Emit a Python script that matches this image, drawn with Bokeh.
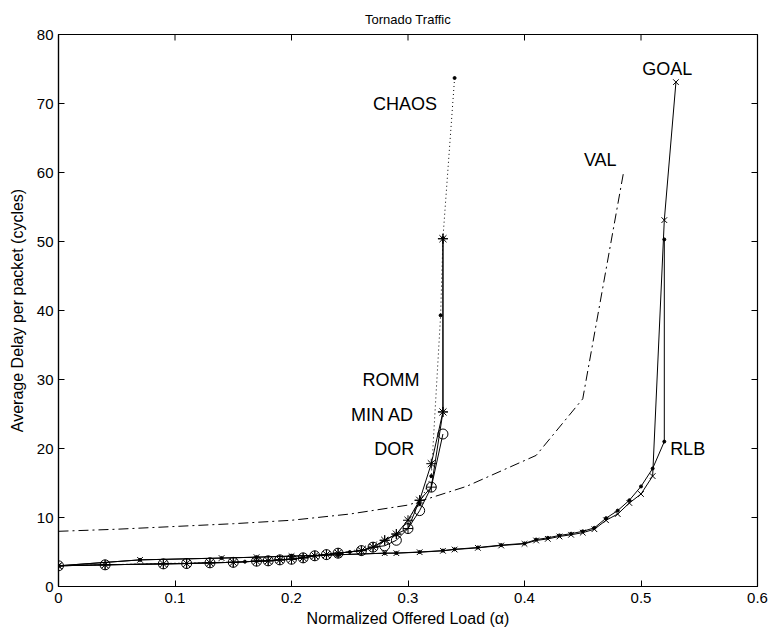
import math
from bokeh.plotting import figure
from bokeh.models import Range1d, FixedTicker
from bokeh.core.properties import value
from bokeh.embed import file_html
from bokeh.resources import INLINE

FONT = "Liberation Sans"

# --- routing algorithms under tornado traffic: offered load vs. average delay ---
dor_load = [0, 0.04, 0.09, 0.11, 0.13, 0.15, 0.17, 0.18, 0.19, 0.20, 0.21, 0.22,
            0.23, 0.24, 0.26, 0.27, 0.28, 0.29, 0.30, 0.31, 0.32, 0.33]
dor_delay = [3.0, 3.14, 3.28, 3.33, 3.43, 3.5, 3.67, 3.72, 3.86, 3.95, 4.15, 4.45,
             4.62, 4.83, 5.2, 5.7, 5.9, 6.7, 8.4, 11.0, 14.4, 22.1]

minad_load = [0, 0.04, 0.09, 0.11, 0.13, 0.15, 0.17, 0.18, 0.19, 0.20, 0.21, 0.22,
              0.23, 0.24, 0.26, 0.27, 0.28, 0.29, 0.30, 0.31, 0.32, 0.33, 0.33]
minad_delay = [3.0, 3.14, 3.28, 3.33, 3.43, 3.5, 3.67, 3.72, 3.86, 3.95, 4.15, 4.45,
               4.62, 4.83, 5.2, 5.7, 6.7, 7.6, 9.6, 12.5, 17.8, 25.3, 50.4]

romm_load = [0, 0.04, 0.09, 0.11, 0.13, 0.15, 0.17, 0.18, 0.19, 0.20, 0.21, 0.22,
             0.23, 0.24, 0.26, 0.27, 0.28, 0.29, 0.30, 0.31, 0.32, 0.33, 0.33]
romm_delay = [3.0, 3.14, 3.28, 3.33, 3.43, 3.5, 3.67, 3.72, 3.86, 3.95, 4.15, 4.45,
              4.62, 4.83, 5.2, 5.7, 6.7, 7.6, 8.4, 12.5, 14.4, 25.3, 50.4]

chaos_load = [0, 0.16, 0.25, 0.29, 0.31, 0.32, 0.328, 0.33, 0.34]
chaos_delay = [3.0, 3.6, 5.0, 7.5, 12.0, 16.0, 39.3, 50.5, 73.7]

val_load = [0, 0.05, 0.10, 0.15, 0.20, 0.25, 0.30, 0.35, 0.41, 0.45, 0.485]
val_delay = [8.0, 8.3, 8.7, 9.1, 9.6, 10.5, 11.8, 14.5, 19.0, 27.2, 60.0]

goal_load = [0, 0.07, 0.14, 0.17, 0.20, 0.24, 0.28, 0.29, 0.31, 0.33, 0.34, 0.36,
             0.38, 0.40, 0.41, 0.42, 0.43, 0.44, 0.45, 0.46, 0.47, 0.48, 0.49,
             0.50, 0.51, 0.52, 0.53]
goal_delay = [3.0, 3.86, 4.12, 4.25, 4.4, 4.6, 4.83, 4.83, 4.97, 5.17, 5.36, 5.6,
              5.94, 6.18, 6.67, 6.9, 7.25, 7.5, 7.8, 8.3, 9.6, 10.5, 12.1,
              13.4, 16.0, 53.1, 73.1]

rlb_load = [0, 0.07, 0.14, 0.17, 0.20, 0.24, 0.28, 0.29, 0.31, 0.33, 0.34, 0.36,
            0.38, 0.40, 0.41, 0.42, 0.43, 0.44, 0.45, 0.46, 0.47, 0.48, 0.49,
            0.50, 0.51, 0.52, 0.52]
rlb_delay = [3.0, 3.86, 4.12, 4.25, 4.4, 4.6, 4.83, 4.85, 5.0, 5.2, 5.4, 5.65,
             6.0, 6.25, 6.8, 7.05, 7.4, 7.65, 8.0, 8.5, 9.9, 11.0, 12.5,
             14.5, 17.1, 21.0, 50.3]

# curve names written next to each curve
label_names = ["CHAOS", "VAL", "GOAL", "ROMM", "MIN AD", "DOR", "RLB"]
label_load = [0.270, 0.451, 0.501, 0.261, 0.251, 0.271, 0.525]
label_delay = [70.0, 61.8, 75.0, 29.9, 24.9, 19.9, 19.9]

x_ticks = [0, 0.1, 0.2, 0.3, 0.4, 0.5, 0.6]
y_ticks = [0, 10, 20, 30, 40, 50, 60, 70, 80]
x_min, x_max = 0, 0.6
y_min, y_max = 0, 80

p = figure(width=772, height=633, output_backend="svg", toolbar_location=None,
           x_range=Range1d(x_min, x_max), y_range=Range1d(y_min, y_max),
           min_border_left=58, min_border_right=15, min_border_top=34,
           min_border_bottom=47, title="Tornado Traffic")
p.background_fill_color = "white"
p.border_fill_color = "white"
p.outline_line_color = "black"
p.outline_line_width = 1.2
p.xgrid.visible = False
p.ygrid.visible = False

p.title.align = "center"
p.title.text_font = FONT
p.title.text_font_size = "13px"
p.title.text_font_style = "normal"
p.title.text_color = "black"
p.title.standoff = 16

for ax, ticks in ((p.xaxis[0], x_ticks), (p.yaxis[0], y_ticks)):
    ax.ticker = FixedTicker(ticks=ticks)
    ax.major_tick_in = 6
    ax.major_tick_out = 0
    ax.minor_tick_line_color = None
    ax.major_tick_line_color = "black"
    ax.axis_line_color = "black"
    ax.axis_line_width = 1.2
    ax.major_label_text_font = FONT
    ax.major_label_text_font_size = "15px"
    ax.major_label_text_color = "black"
    ax.axis_label_text_font = FONT
    ax.axis_label_text_font_size = "16px"
    ax.axis_label_text_font_style = "normal"
    ax.axis_label_text_color = "black"

p.xaxis[0].axis_label = "Normalized Offered Load (α)"
p.yaxis[0].axis_label = "Average Delay per packet (cycles)"
p.xaxis[0].major_label_standoff = 6
p.xaxis[0].axis_label_standoff = 4
p.yaxis[0].major_label_standoff = 5
p.yaxis[0].axis_label_standoff = 8
p.xaxis[0].major_label_overrides = {0: "0"}

# inward ticks on the top and right edges of the box (half of each dash is
# clipped away by the frame)
p.scatter(x_ticks, [y_max] * len(x_ticks), marker="dash", size=12,
          angle=math.pi / 2, line_color="black", line_width=1)
p.scatter([x_max] * len(y_ticks), y_ticks, marker="dash", size=12,
          line_color="black", line_width=1)

# curves
p.line(val_load, val_delay, line_color="black", line_width=1, line_dash="10 4 2 4")
p.line(chaos_load, chaos_delay, line_color="black", line_width=1, line_dash="1 3")
p.scatter(chaos_load, chaos_delay, marker="circle", size=3, line_color="black",
          fill_color="black")

p.line(goal_load, goal_delay, line_color="black", line_width=1)
p.scatter(goal_load, goal_delay, marker="x", size=8, line_color="black")
p.line(rlb_load, rlb_delay, line_color="black", line_width=1)
p.scatter(rlb_load, rlb_delay, marker="circle", size=3, line_color="black",
          fill_color="black")

p.line(dor_load, dor_delay, line_color="black", line_width=1)
p.scatter(dor_load, dor_delay, marker="circle", size=10, line_color="black",
          fill_color=None)
p.line(minad_load, minad_delay, line_color="black", line_width=1)
p.scatter(minad_load, minad_delay, marker="asterisk", size=10, line_color="black")
p.line(romm_load, romm_delay, line_color="black", line_width=1)
p.scatter(romm_load, romm_delay, marker="cross", size=10, line_color="black")

p.text(label_load, label_delay, text=label_names, text_font=value(FONT),
       text_font_size="18px", text_align="left", text_baseline="middle",
       text_color="black")

open("out.html", "w").write(file_html(p, INLINE))
